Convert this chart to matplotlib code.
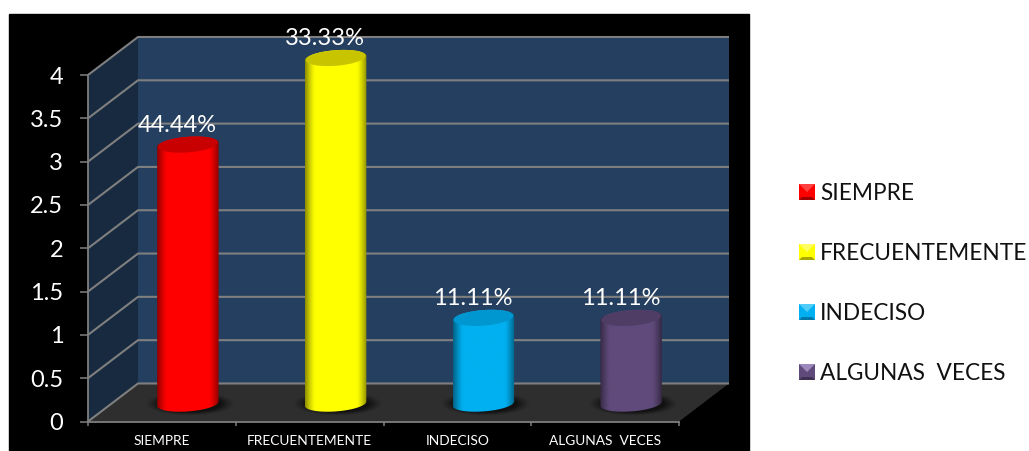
import matplotlib

matplotlib.use("Agg")

import matplotlib.pyplot as plt
import numpy as np
from matplotlib.patches import Ellipse, Polygon
from matplotlib.path import Path
from matplotlib.transforms import Affine2D

categories = ["SIEMPRE", "FRECUENTEMENTE", "INDECISO", "ALGUNAS  VECES"]
values = [3, 4, 1, 1]
percent_labels = ["44.44%", "33.33%", "11.11%", "11.11%"]
y_ticks = [0, 0.5, 1, 1.5, 2, 2.5, 3, 3.5, 4]
y_tick_labels = ["0", "0.5", "1", "1.5", "2", "2.5", "3", "3.5", "4"]

bar_colors = ["#ff0000", "#ffff00", "#00b0f0", "#604a7b"]
top_colors = ["#c80000", "#c8c400", "#0096d0", "#4f3d66"]
swatch_light = ["#ff4040", "#ffff60", "#50ccf8", "#9c88bc"]
swatch_dark = ["#a00000", "#a8a800", "#0078a8", "#403052"]

GRID = "#7f7f7f"
WALL = "#243f60"
SIDE = "#182a3f"
FLOOR = "#2e2e2e"

# depth of the box in data units
DEPTH_X = 50 / 147.75
DEPTH_Y = 38 / 86.6
BAR_HALF_W = 0.208
ELL_H = 0.09
ELL_TILT = 0.025

plt.rcParams["font.family"] = ["Lato", "DejaVu Sans"]

fig = plt.figure(figsize=(10.29, 4.51), dpi=100, facecolor="white")
px = Affine2D().scale(1, -1).translate(0, 451)

fig.add_artist(
    Polygon([(9, 14), (749, 14), (749, 451), (9, 451)], closed=True, color="black", transform=px, zorder=-1)
)

ax = fig.add_axes([88 / 1029, (451 - 421.5) / 451, 591 / 1029, 346.5 / 451])
ax.patch.set_visible(False)


def draw_box():
    ymax = max(y_ticks)
    ax.add_patch(
        Polygon(
            [(DEPTH_X, DEPTH_Y), (4 + DEPTH_X, DEPTH_Y), (4 + DEPTH_X, ymax + DEPTH_Y), (DEPTH_X, ymax + DEPTH_Y)],
            color=WALL, clip_on=False, zorder=1, lw=0,
        )
    )
    ax.add_patch(
        Polygon(
            [(0, 0), (DEPTH_X, DEPTH_Y), (DEPTH_X, ymax + DEPTH_Y), (0, ymax)],
            color=SIDE, clip_on=False, zorder=1, lw=0,
        )
    )
    ax.add_patch(
        Polygon(
            [(0, 0), (4, 0), (4 + DEPTH_X, DEPTH_Y), (DEPTH_X, DEPTH_Y)],
            color=FLOOR, clip_on=False, zorder=1.2, lw=0,
        )
    )
    for t in y_ticks:
        ax.plot(
            [0, DEPTH_X, 4 + DEPTH_X], [t, t + DEPTH_Y, t + DEPTH_Y],
            color=GRID, lw=1.5, clip_on=False, zorder=1.5, solid_capstyle="butt",
        )


def shade(color, n=160):
    # darker only close to both edges of the cylinder
    rgb = np.array(matplotlib.colors.to_rgb(color))
    u = np.linspace(-1, 1, n)
    k = 1 - 0.45 * np.clip((np.abs(u) - 0.68) / 0.32, 0, 1) ** 1.3
    return (rgb[None, None, :] * k[None, :, None]).clip(0, 1)


def draw_cylinder(i, value):
    cx = i + 0.5 + DEPTH_X * 0.52
    base = DEPTH_Y * 0.47
    top = value + base - 0.01

    # soft shadow on the floor
    for scale, alpha in zip(np.linspace(1.0, 0.72, 8), [0.05, 0.06, 0.07, 0.09, 0.1, 0.12, 0.14, 0.16]):
        ax.add_patch(
            Ellipse(
                (cx + 0.015, base), 2 * BAR_HALF_W * 1.42 * scale, 2 * ELL_H * 1.5 * scale,
                color="black", alpha=alpha, lw=0, zorder=2, clip_on=False,
            )
        )

    t = np.linspace(0, np.pi, 60)
    upper = np.column_stack(
        [cx + BAR_HALF_W * np.cos(t), top + ELL_H * np.sin(t) + ELL_TILT * np.cos(t)]
    )
    lower = np.column_stack(
        [cx - BAR_HALF_W * np.cos(t), base - ELL_H * np.sin(t) - ELL_TILT * np.cos(t)]
    )
    outline = np.vstack([upper, lower, upper[:1]])

    im = ax.imshow(
        shade(bar_colors[i]), extent=[cx - BAR_HALF_W, cx + BAR_HALF_W, base - 0.3, top + 0.3],
        aspect="auto", zorder=3, interpolation="bilinear",
    )
    im.set_clip_box(fig.bbox)
    im.set_clip_path(Path(outline), ax.transData)

    t = np.linspace(0, 2 * np.pi, 120)
    ax.fill(
        cx + BAR_HALF_W * 0.97 * np.cos(t), top + ELL_H * np.sin(t) + ELL_TILT * np.cos(t),
        color=top_colors[i], lw=0, zorder=3.2, clip_on=False,
    )

    ax.annotate(
        percent_labels[i], (cx, top), xytext=(-7.5, 14), textcoords="offset points",
        ha="center", va="center", color="white", fontsize=17, zorder=4, annotation_clip=False,
    )


draw_box()
for idx, val in enumerate(values):
    draw_cylinder(idx, val)

ax.set_xlim(0, 4)
ax.set_ylim(0, 4)

ax.set_yticks(y_ticks)
ax.set_yticklabels(y_tick_labels, color="white", fontsize=17)
ax.tick_params(axis="y", length=5.8, width=1.1, color=GRID, pad=12)

ax.set_xticks(range(5))
ax.set_xticklabels([])
ax.set_xticks([0.5, 1.5, 2.5, 3.5], minor=True)
ax.set_xticklabels(categories, minor=True, color="white", fontsize=9.9)
ax.tick_params(axis="x", which="major", length=3, width=1.1, color=GRID)
ax.tick_params(axis="x", which="minor", length=0, pad=9.5)

for side in ["top", "right"]:
    ax.spines[side].set_visible(False)
for side in ["left", "bottom"]:
    ax.spines[side].set_color(GRID)
    ax.spines[side].set_linewidth(1.3)

# legend with bevelled swatches
for i, name in enumerate(categories):
    yc = 192 + i * 60
    x0, x1, y0, y1 = 799, 815, yc - 8, yc + 8
    xm, ym = (x0 + x1) / 2, yc
    fig.add_artist(Polygon([(x0, y0), (x1, y0), (x1, y1), (x0, y1)], color=bar_colors[i], lw=0, transform=px))
    fig.add_artist(Polygon([(x0, y0), (x1, y0), (xm, ym)], color=swatch_light[i], lw=0, transform=px))
    fig.add_artist(Polygon([(x0, y1), (x1, y1), (x1 - 3, y1 - 3), (x0 + 3, y1 - 3)], color=swatch_dark[i], lw=0, transform=px))
    fig.text(820 / 1029, (451 - yc - 1) / 451, name, color="#111111", fontsize=16.3, ha="left", va="center")

fig.savefig("out.png", dpi=100)
